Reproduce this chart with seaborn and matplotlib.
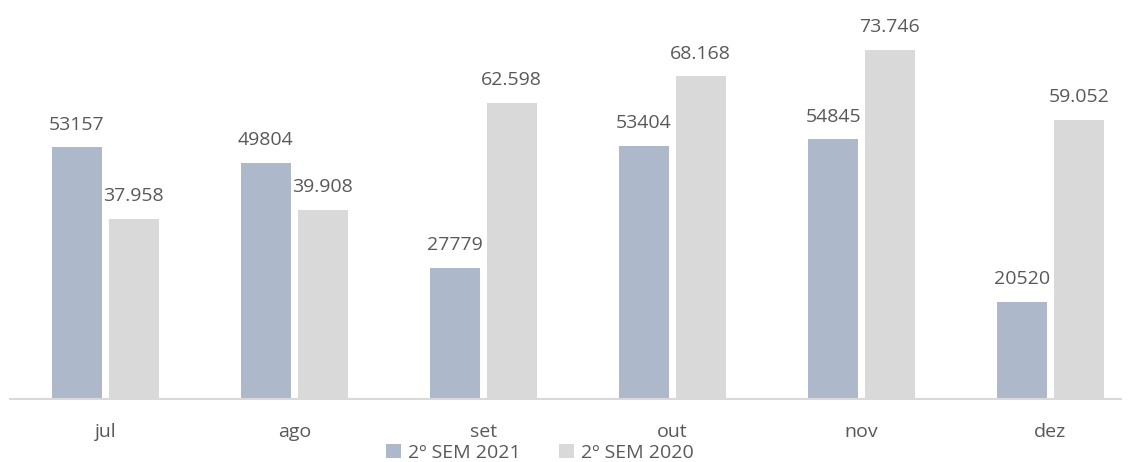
import matplotlib
matplotlib.use("Agg")
import matplotlib.pyplot as plt
from matplotlib.patches import Patch
import seaborn as sns
import pandas as pd

months = ["jul", "ago", "set", "out", "nov", "dez"]
sem_2021 = [53157, 49804, 27779, 53404, 54845, 20520]
sem_2020 = [37958, 39908, 62598, 68168, 73746, 59052]
labels_2021 = ["53157", "49804", "27779", "53404", "54845", "20520"]
labels_2020 = ["37.958", "39.908", "62.598", "68.168", "73.746", "59.052"]
series_names = ["2º SEM 2021", "2º SEM 2020"]
colors = ["#ADB9CA", "#D9D9D9"]
text_color = "#595959"

df = pd.DataFrame({
    "mes": months * 2,
    "valor": sem_2021 + sem_2020,
    "serie": [series_names[0]] * 6 + [series_names[1]] * 6,
})

sns.set_theme(style="white")
plt.rcParams["font.family"] = ["Open Sans", "DejaVu Sans"]

fig = plt.figure(figsize=(11.31, 4.62), dpi=100)
ax = fig.add_axes([10 / 1131, 63 / 462, 1111 / 1131, 379 / 462])

sns.barplot(data=df, x="mes", y="valor", hue="serie", order=months,
            hue_order=series_names, palette=colors, width=0.6, gap=0.118,
            saturation=1, edgecolor="none", ax=ax, legend=False)

for container, labels in zip(ax.containers, [labels_2021, labels_2020]):
    ax.bar_label(container, labels=labels, padding=10, fontsize=14,
                 color=text_color)

ax.set_xlim(-0.504, 5.373)
ax.set_ylim(0, 80085)
ax.set_xlabel("")
ax.set_ylabel("")
ax.set_yticks([])
ax.tick_params(axis="x", length=0, labelsize=14, labelcolor=text_color, pad=17)
for side in ["top", "left", "right"]:
    ax.spines[side].set_visible(False)
ax.spines["bottom"].set_color("#D9D9D9")
ax.spines["bottom"].set_linewidth(1.5)

handles = [Patch(facecolor=c, edgecolor="none") for c in colors]
fig.legend(handles, series_names, loc="center", bbox_to_anchor=(540 / 1131, 1 - 453 / 462),
           ncol=2, frameon=False, fontsize=14, labelcolor=text_color,
           handlelength=0.75, handleheight=0.75, handletextpad=0.35, columnspacing=2.0,
           borderpad=0)

fig.savefig("out.png", dpi=100)
